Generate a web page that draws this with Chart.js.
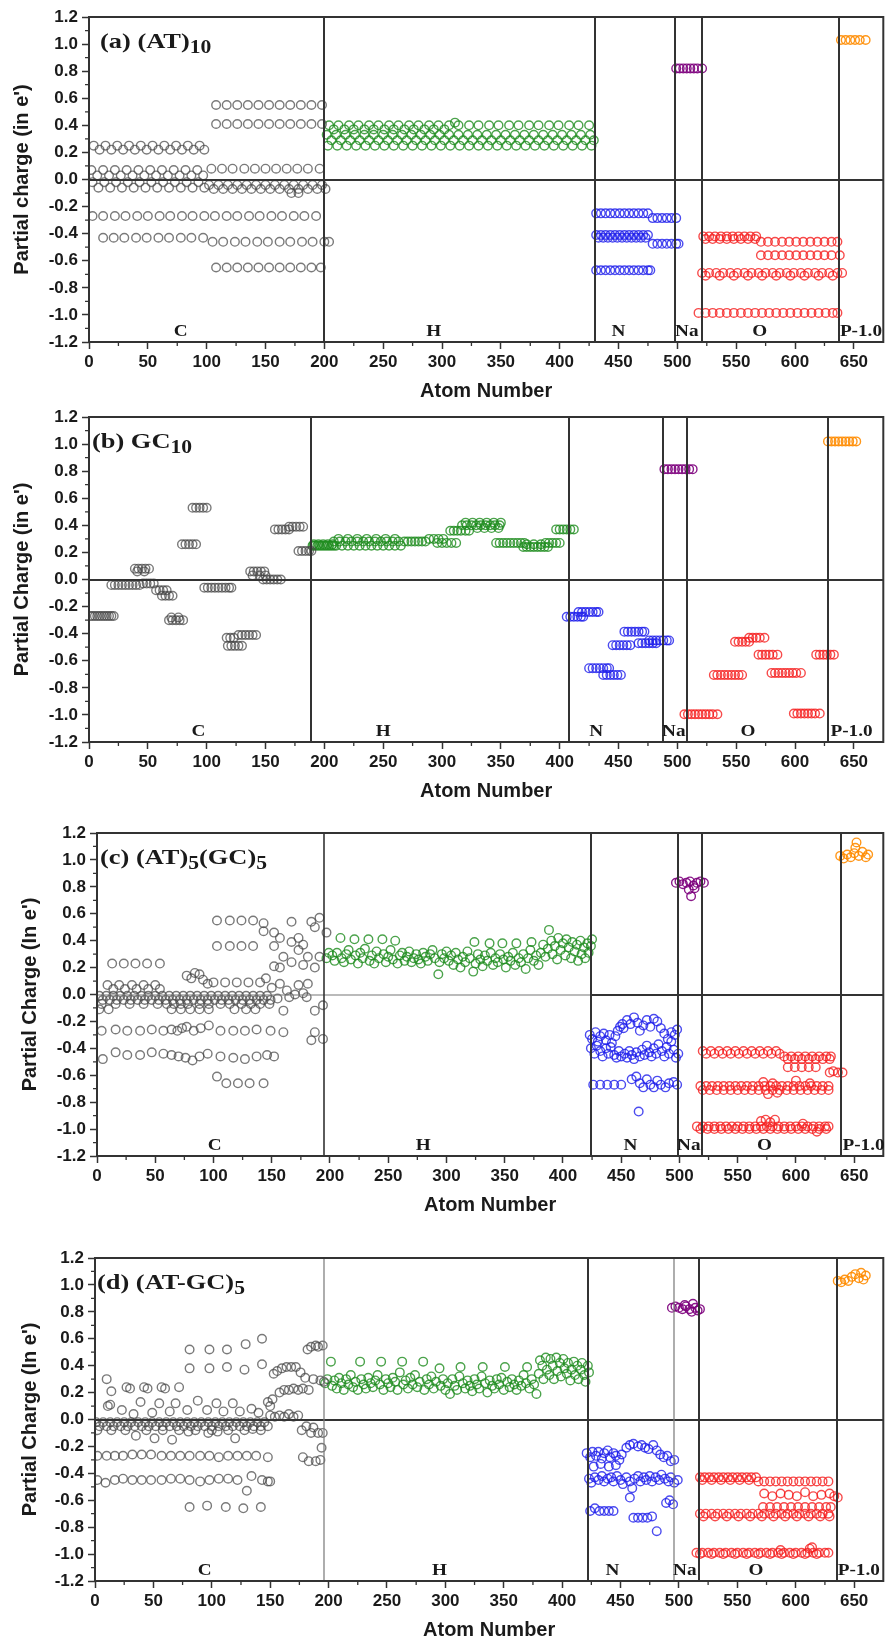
<!DOCTYPE html>
<html><head><meta charset="utf-8">
<script src="https://cdn.jsdelivr.net/npm/chart.js@4.4.1/dist/chart.umd.min.js"></script>
<style>
html,body{margin:0;padding:0;background:#fff;width:889px;height:1645px;overflow:hidden;position:relative;}
.p{position:absolute;left:0;width:889px;}
canvas{display:block;}
</style></head><body>
<div class="p" style="top:0px"><canvas id="ca" width="889" height="410"></canvas></div>
<div class="p" style="top:400px"><canvas id="cb" width="889" height="410"></canvas></div>
<div class="p" style="top:816px"><canvas id="cc" width="889" height="408"></canvas></div>
<div class="p" style="top:1241px"><canvas id="cd" width="889" height="408"></canvas></div>
<script>
function R(y, xs){ return xs.map(x => [x, y]); }

const xTicks = [0,50,100,150,200,250,300,350,400,450,500,550,600,650];
const yTicks = [-1.2,-1.0,-0.8,-0.6,-0.4,-0.2,0,0.2,0.4,0.6,0.8,1.0,1.2];
const elements = ['C','H','N','Na','O','P-1.0'];

// ---------- (a) (AT)10 ----------
const aBounds = [200, 430, 498, 521, 637];
const aLabelX = [78, 293, 450, 508, 570, 656];
const aC = [
 ...R(0.25,[4,14,24,34,44,54,64,74,84,94]),
 ...R(0.22,[9,19,29,39,49,59,69,79,89,98]),
 ...R(0.07,[2,12,22,32,42,52,62,72,82,92]),
 ...R(0.03,[7,17,27,37,47,57,67,77,87,97]),
 ...R(-0.02,[3,13,23,33,43,53,63,73,83,93]),
 ...R(-0.06,[8,18,28,38,48,58,68,78,88,98]),
 ...R(-0.27,[3,12,22,31,41,50,60,69,79,88,98,107,117,126,136,145,155,164,174,183,193]),
 ...R(-0.43,[12,21,30,40,49,59,68,78,87,97]),
 ...R(0.55,[108,117,126,135,144,153,162,171,180,189,198]),
 ...R(0.41,[108,117,126,135,144,153,162,171,180,189,198]),
 ...R(0.08,[104,113,122,132,141,150,159,168,177,186,196]),
 ...R(-0.04,[102,110,118,126,134,142,150,158,166,174,182,190,198]),
 ...R(-0.07,[106,114,122,130,138,146,154,162,170,178,186,194,201]),
 ...R(-0.10,[172,178]),
 ...R(-0.46,[105,114,124,133,143,152,162,171,181,190,200,204]),
 ...R(-0.65,[108,117,126,135,144,153,162,171,180,189,197])
];
const aH = [
 ...R(0.40,[204,212,221,229,238,246,255,263,272,280,289,297,306,314,323,331,340,348,357,365,374,382,391,399,408,416,425]),
 ...R(0.37,[208,217,225,234,242,251,259,268,276,285,293,302]),
 ...R(0.42,[311]),
 ...R(0.33,[202,210,218,226,234,242,250,258,266,274,282,290,298,306,314,322,330,338,346,354,362,370,378,386,394,402,410,418,426]),
 ...R(0.29,[206,214,222,230,238,246,254,262,270,278,286,294,302,310,318,326,334,342,350,358,366,374,382,390,398,406,414,422,429]),
 ...R(0.25,[203,211,219,227,235,243,251,259,267,275,283,291,299,307,315,323,331,339,347,355,363,371,379,387,395,403,411,419,427])
];
const aN = [
 ...R(-0.25,[431,435,439,443,447,451,455,459,463,467,471,475]),
 ...R(-0.285,[479,483,487,491,495,499]),
 ...R(-0.41,[431,435,439,443,447,451,455,459,463,467,471,475]),
 ...R(-0.43,[433,437,441,445,449,453,457,461,465,469,473]),
 ...R(-0.475,[479,483,487,491,495,499,501]),
 ...R(-0.67,[431,435,439,443,447,451,455,459,463,467,471,475,477])
];
const aNa = R(0.82,[499,502,505,508,511,514,517,521]);
const aO = [
 ...R(-0.42,[522,527,532,537,542,547,552,557,562,567]),
 ...R(-0.44,[524,530,536,542,548,554,560,566]),
 ...R(-0.46,[571,577,583,589,595,601,607,613,619,625,631,636]),
 ...R(-0.56,[571,577,583,589,595,601,607,613,619,625,631,638]),
 ...R(-0.69,[521,527,533,539,545,551,557,563,569,575,581,587,593,599,605,611,617,623,629,636,640]),
 ...R(-0.71,[524,536,548,560,572,584,596,608,620,632]),
 ...R(-0.985,[518,524,530,536,542,548,554,560,566,572,578,584,590,596,602,608,614,620,626,632,636])
];
const aP = R(1.03,[639,643,647,651,655,660]);

// ---------- (b) GC10 ----------
const bBounds = [189, 408, 488, 508, 628];
const bLabelX = [93, 250, 431, 497, 560, 648];
const bC = [
 ...R(-0.27,[1,3,5,7,9,11,13,15,17,19,21]),
 ...R(-0.04,[19,22,25,28,31,34,37,40,43]),
 ...R(0.08,[39,42,45,48,51]),
 ...R(0.06,[41,47]),
 ...R(-0.03,[46,49,52,55]),
 ...R(-0.08,[57,60,63,66]),
 ...R(-0.12,[62,65,68,71]),
 ...R(-0.30,[68,71,74,77,80]),
 ...R(-0.28,[70,76]),
 ...R(0.26,[79,82,85,88,91]),
 ...R(0.53,[88,91,94,97,100]),
 ...R(-0.06,[98,101,104,107,110,113,116,119,121]),
 ...R(-0.43,[117,120,123]),
 ...R(-0.49,[118,121,124,127,130]),
 ...R(-0.41,[127,130,133,136,139,142]),
 ...R(0.06,[137,140,143,146,149]),
 ...R(0.03,[139,145,150]),
 ...R(0.0,[148,151,154,157,160,163]),
 ...R(0.37,[158,161,164,167,170]),
 ...R(0.39,[170,173,176,179,182]),
 ...R(0.21,[178,181,184,187,189])
];
const bH = [
 ...R(0.25,[190,192,194,196,198,200,202,204,206,208]),
 ...R(0.26,[191,195,199,203,207]),
 ...R(0.28,[208,213,218,223,228,233,238,243,248,253,258,263]),
 ...R(0.25,[210,215,220,225,230,235,240,245,250,255,260,265]),
 ...R(0.30,[212,220,228,236,244,252,260]),
 ...R(0.28,[268,271,274,277,280,283,286]),
 ...R(0.30,[289,293,297,301]),
 ...R(0.27,[296,300,304,308,312]),
 ...R(0.36,[307,310,313,316,320,323]),
 ...R(0.40,[317,321,325,329,333,337,341,345,349]),
 ...R(0.42,[320,326,332,338,344,350]),
 ...R(0.38,[330,336,342,348]),
 ...R(0.27,[346,349,352,355,358,361,364,367,370]),
 ...R(0.24,[369,372,375,378,381,384,387,390]),
 ...R(0.26,[372,378,384]),
 ...R(0.27,[388,391,394,397,400]),
 ...R(0.37,[397,400,403,406,409,412])
];
const bN = [
 ...R(-0.275,[406,409,412,415,418,420]),
 ...R(-0.24,[416,419,422,425,428,431,433]),
 ...R(-0.655,[425,428,431,434,437,440,442]),
 ...R(-0.705,[437,440,443,446,449,452]),
 ...R(-0.485,[445,448,451,454,457,460]),
 ...R(-0.385,[455,458,461,464,467,470,472]),
 ...R(-0.47,[467,470,473,476,479,482]),
 ...R(-0.45,[476,479,482,485,488,491,493])
];
const bNa = R(0.815,[489,492,495,498,501,504,507,510,513]);
const bO = [
 ...R(-0.995,[506,509,512,515,518,521,524,527,530,534]),
 ...R(-0.705,[531,534,537,540,543,546,549,552,555]),
 ...R(-0.46,[549,552,555,558,561]),
 ...R(-0.43,[561,564,567,570,574]),
 ...R(-0.555,[569,572,575,578,581,585]),
 ...R(-0.69,[580,583,586,589,592,595,598,601,605]),
 ...R(-0.99,[599,602,605,608,611,614,617,621]),
 ...R(-0.555,[618,621,624,627,630,633])
];
const bP = R(1.02,[628,631,634,637,640,643,646,649,652]);

// ---------- (c) (AT)5(GC)5 ----------
const cBounds = [195, 424, 499, 519, 639];
const cLabelX = [101, 280, 458, 508, 573, 658];
const cC = [
 ...R(0.23,[13,23,33,43,54]),
 ...R(0.07,[9,19,30,40,50]),
 ...R(0.04,[14,24,34,44,54]),
 ...R(-0.01,[2,8,14,20,26,32,38,44,50,56,62,68,74,80,86,92,98,104,110,116,122,128,134,140,146]),
 ...R(-0.04,[5,11,17,23,29,35,41,47,53,59,65,71,77,83,89,95,101,107,113,119,125,131,137,143,149]),
 ...R(-0.07,[4,16,28,40,52,60,66,72,78,88,96,106,114,124,132,140,148]),
 ...R(-0.11,[2,10,64,72,80,88,96,118,128,136]),
 ...R(0.55,[103,114,124,134]), [143,0.53],[143,0.47],
 ...R(0.36,[103,114,124,134]),
 ...R(0.09,[100,110,120,130,140]),
 [77,0.14],[81,0.12],[84,0.16],[88,0.15],[91,0.11],[95,0.08],
 [4,-0.27],[16,-0.26],[26,-0.27],[37,-0.27],[47,-0.26],[57,-0.27],[64,-0.26],[69,-0.27],[73,-0.25],[77,-0.24],[83,-0.27],[89,-0.25],[96,-0.23],[106,-0.27],[117,-0.27],[127,-0.27],[137,-0.26],[149,-0.27],
 [5,-0.48],[16,-0.43],[26,-0.45],[37,-0.45],[47,-0.43],[57,-0.44],[64,-0.45],[70,-0.46],[76,-0.47],[82,-0.49],[88,-0.46],[95,-0.44],[106,-0.46],[117,-0.47],[127,-0.48],[137,-0.46],[146,-0.45],[152,-0.46],
 [103,-0.61], ...R(-0.66,[111,121,131,143]),
 [145,0.12],[152,0.21],[152,0.36],[152,0.46],[157,0.42],[157,0.08],[157,0.20],[160,-0.12],[160,-0.28],[160,0.28],
 [167,0.54],[167,0.39],[167,0.24],[173,0.42],[173,0.33],[173,0.07],[177,0.37],[177,0.22],[177,0.01],[181,0.28],[181,0.08],
 [184,0.54],[184,-0.34],[187,0.50],[187,0.20],[187,-0.12],[187,-0.28],[191,0.57],[191,0.28],[194,-0.08],[194,-0.33],[197,0.46],
 [163,0.03],[170,0.0],[150,0.05],[155,-0.03],[165,-0.02],[180,-0.02]
];
const cH = [
 [197,0.27],[199,0.31],[202,0.29],[204,0.25],[206,0.31],[209,0.42],[210,0.27],[212,0.24],[214,0.30],[216,0.33],[218,0.26],[221,0.41],[222,0.29],[224,0.23],[226,0.31],[228,0.27],[230,0.34],[233,0.41],[234,0.25],[236,0.29],[238,0.23],[240,0.32],[242,0.27],[245,0.41],[246,0.30],[248,0.24],[250,0.28],[252,0.33],[254,0.26],[256,0.40],[258,0.23],[260,0.29],[262,0.31],[264,0.25],[266,0.28],[268,0.32],[270,0.24],[272,0.27],[274,0.30],[276,0.26],[278,0.23],[280,0.31],[282,0.28],[284,0.25],[286,0.30],[288,0.33],[290,0.27],[293,0.15],[294,0.24],[296,0.30],[298,0.27],[300,0.32],
 [302,0.25],[304,0.29],[306,0.22],[308,0.31],[310,0.26],[312,0.20],[314,0.28],[316,0.24],[318,0.32],[320,0.27],[323,0.17],[324,0.39],[325,0.23],[327,0.30],[329,0.26],[331,0.21],[333,0.29],[335,0.25],[337,0.38],[338,0.31],[340,0.22],[342,0.27],[344,0.24],[346,0.30],[348,0.38],[349,0.26],[351,0.20],[353,0.28],[355,0.25],[357,0.31],[359,0.22],[360,0.38],[362,0.27],[364,0.24],[366,0.30],[368,0.19],[370,0.27],[372,0.33],[373,0.39],[375,0.25],[377,0.29],[379,0.22],[381,0.31],[383,0.37],[385,0.28],[387,0.34],[388,0.48],[390,0.40],[391,0.30],[393,0.36],[395,0.26],[396,0.42],[398,0.33],[400,0.38],[402,0.29],[403,0.41],[405,0.35],[407,0.27],[408,0.39],[410,0.32],[412,0.37],[413,0.25],[415,0.40],[416,0.30],[418,0.35],[419,0.27],[421,0.38],[422,0.31],[424,0.36],[425,0.41]
];
const cN = [
 [423,-0.30],[425,-0.33],[428,-0.28],[430,-0.35],[432,-0.31],[435,-0.29],[437,-0.34],[440,-0.30],[442,-0.36],[445,-0.31],[447,-0.27],[449,-0.24],[451,-0.22],
 [424,-0.40],[427,-0.44],[429,-0.38],[432,-0.42],[434,-0.46],[437,-0.40],[439,-0.44],[441,-0.39],[444,-0.45],[446,-0.47],[448,-0.42],[450,-0.46],[453,-0.44],[455,-0.47],[457,-0.42],[459,-0.45],[461,-0.48],[463,-0.43],[466,-0.46],[468,-0.41],[470,-0.45],[472,-0.38],[474,-0.43],[476,-0.46],[478,-0.40],[480,-0.44],[482,-0.37],[485,-0.42],[487,-0.46],[489,-0.39],[491,-0.44],[493,-0.35],[495,-0.41],[497,-0.47],[499,-0.44],
 [452,-0.25],[455,-0.19],[458,-0.22],[461,-0.17],[464,-0.21],[466,-0.27],[469,-0.23],[472,-0.19],[475,-0.24],[478,-0.18],[481,-0.20],[484,-0.25],[487,-0.29],[490,-0.33],[493,-0.28],[496,-0.30],[498,-0.26],
 [426,-0.67],[432,-0.67],[438,-0.67],[444,-0.67],[450,-0.67],[459,-0.63],[463,-0.61],[466,-0.66],[469,-0.69],[472,-0.63],[475,-0.67],[478,-0.69],[481,-0.64],[484,-0.67],[488,-0.69],[491,-0.66],[495,-0.65],[498,-0.67],[465,-0.87]
];
const cNa = [[497,0.83],[500,0.84],[503,0.82],[506,0.83],[509,0.84],[512,0.81],[515,0.83],[518,0.84],[521,0.83],[510,0.73],[508,0.78],[513,0.79]];
const cO = [
 ...R(-0.42,[520,527,534,541,548,555,562,569,576,583]),
 ...R(-0.44,[523,530,537,544,551,558,565,572,579,586]),
 ...R(-0.46,[590,596,602,608,614,620,626,630]),
 ...R(-0.48,[593,599,605,611,617,623,629]),
 ...R(-0.54,[593,599,605,611,617]),
 [629,-0.58],[632,-0.57],[636,-0.58],[640,-0.58],
 ...R(-0.68,[518,523,528,533,538,543,548,553,558,563,568,573,578,583,588,593,598,603,608,613,618,623,628]),
 ...R(-0.71,[520,526,532,538,544,550,556,562,568,574,580,586,592,598,604,610,616,622,628]),
 [572,-0.65],[576,-0.74],[580,-0.66],[584,-0.73],[600,-0.64],[612,-0.66],
 ...R(-0.98,[515,520,525,530,535,540,545,550,555,560,565,570,575,580,585,590,595,600,605,610,615,620,625,628]),
 ...R(-1.0,[518,524,530,536,542,548,554,560,566,572,578,584,590,596,602,608,614,620,626]),
 [570,-0.94],[574,-0.93],[578,-0.95],[582,-0.93],[606,-0.96],[618,-1.02]
];
const cP = [[638,1.03],[641,1.01],[644,1.04],[647,1.02],[650,1.05],[651,1.09],[652,1.13],[654,1.03],[657,1.06],[660,1.02],[662,1.04]];

// ---------- (d) (AT-GC)5 ----------
const dBounds = [196, 422, 496, 517, 635];
const dLabelX = [94, 295, 443, 505, 566, 654];
const dC = [
 [81,0.52],[98,0.52],[113,0.52],[129,0.56],[143,0.60],
 [81,0.38],[98,0.38],[113,0.39],[128,0.37],[143,0.41],
 [10,0.30],[14,0.21],
 [27,0.24],[30,0.23],[42,0.24],[45,0.23],[57,0.24],[60,0.23],[72,0.24],
 [11,0.10],[13,0.11],[39,0.13],[55,0.12],[69,0.12],[88,0.14],[104,0.12],[118,0.12],[134,0.08],[148,0.13],
 [23,0.07],[33,0.04],[49,0.05],[64,0.06],[79,0.07],[96,0.07],[110,0.06],[124,0.06],[140,0.05],
 ...R(-0.02,[1,7,13,19,25,31,37,43,49,55,61,67,73,79,85,91,97,103,109,115,121,127,133,139,145]),
 ...R(-0.05,[4,10,16,22,28,34,40,46,52,58,64,70,76,82,88,94,100,106,112,118,124,130,136,142,148]),
 ...R(-0.08,[2,14,26,44,58,72,86,100,114,128,142]),
 [35,-0.12],[51,-0.14],[66,-0.15],[80,-0.09],[97,-0.10],[105,-0.09],[120,-0.14],[135,-0.07],
 [2,-0.27],[10,-0.27],[17,-0.27],[24,-0.27],[32,-0.26],[40,-0.26],[48,-0.26],[57,-0.27],[65,-0.27],[73,-0.27],[81,-0.27],[90,-0.27],[98,-0.27],[106,-0.28],[114,-0.27],[122,-0.27],[130,-0.27],[138,-0.27],[148,-0.28],
 [2,-0.45],[9,-0.47],[17,-0.45],[24,-0.44],[32,-0.45],[40,-0.45],[48,-0.45],[57,-0.45],[65,-0.44],[73,-0.44],[81,-0.45],[90,-0.46],[98,-0.45],[106,-0.44],[114,-0.44],[122,-0.45],[134,-0.42],[143,-0.45],[148,-0.46],[150,-0.46],
 [130,-0.53],
 [81,-0.65],[96,-0.64],[112,-0.65],[127,-0.66],[142,-0.65],
 [150,0.10],[152,0.15],[153,0.34],[156,0.36],[158,0.20],[160,0.38],[162,0.22],[164,0.39],[166,0.22],[168,0.39],[170,0.23],[172,0.39],[174,0.22],[176,0.35],[178,0.23],[180,0.31],[182,0.52],[183,0.22],[185,0.54],[187,0.30],[189,0.55],[191,0.54],[193,0.29],[195,0.55],[196,0.28],
 [150,0.03],[154,0.02],[158,0.03],[162,0.02],[166,0.04],[170,0.02],[174,0.03],
 [177,-0.08],[178,-0.28],[181,-0.05],[183,-0.31],[185,-0.10],[187,-0.06],[189,-0.31],[191,-0.10],[193,-0.30],[194,-0.21],[195,-0.10]
];
const dH = [
 [197,0.27],[199,0.30],[202,0.43],[203,0.25],[205,0.29],[207,0.23],[209,0.31],[211,0.27],[213,0.22],[215,0.30],[217,0.26],[219,0.33],[221,0.24],[223,0.28],[225,0.22],[227,0.43],[228,0.30],[230,0.26],[232,0.23],[234,0.31],[236,0.27],[238,0.24],[240,0.29],[242,0.33],[244,0.26],[245,0.43],[247,0.22],[249,0.30],[251,0.27],[253,0.24],[255,0.31],[257,0.28],[259,0.22],[261,0.35],[263,0.43],[264,0.26],[266,0.29],[268,0.23],[270,0.31],[272,0.26],[274,0.33],[276,0.24],[278,0.28],[281,0.43],[282,0.22],[284,0.30],[286,0.26],[288,0.32],[290,0.23],[292,0.28],[295,0.38],[296,0.25],[298,0.30],[300,0.22],
 [302,0.27],[304,0.19],[306,0.30],[308,0.25],[310,0.22],[312,0.32],[313,0.39],[315,0.27],[317,0.23],[319,0.29],[321,0.25],[323,0.21],[325,0.30],[327,0.26],[329,0.23],[331,0.32],[332,0.39],[334,0.27],[336,0.20],[338,0.29],[340,0.25],[342,0.23],[344,0.30],[346,0.26],[348,0.31],[350,0.22],[351,0.39],[353,0.28],[355,0.24],[357,0.30],[359,0.26],[361,0.22],[363,0.29],[365,0.25],[367,0.33],[369,0.27],[370,0.39],[372,0.23],[374,0.30],[376,0.26],[378,0.19],
 [380,0.34],[381,0.44],[383,0.40],[384,0.30],[386,0.46],[387,0.37],[389,0.33],[390,0.45],[392,0.40],[393,0.30],[395,0.46],[396,0.36],[398,0.42],[399,0.32],[401,0.45],[402,0.38],[404,0.34],[405,0.42],[407,0.29],[408,0.37],[410,0.43],[411,0.33],[413,0.40],[414,0.30],[416,0.37],[417,0.42],[419,0.33],[420,0.28],[422,0.40],[423,0.35]
];
const dN = [
 [421,-0.25],[424,-0.28],[426,-0.24],[429,-0.27],[431,-0.24],[434,-0.29],[436,-0.25],[439,-0.23],[441,-0.28],[444,-0.25],[446,-0.27],[449,-0.30],[451,-0.26],
 [427,-0.35],[433,-0.33],[440,-0.35],[446,-0.34],
 [455,-0.21],[458,-0.19],[461,-0.18],[465,-0.20],[468,-0.19],[471,-0.21],[474,-0.22],[478,-0.19],[481,-0.23],[484,-0.26],[487,-0.28],[490,-0.27],[493,-0.31],[496,-0.30],
 [423,-0.44],[425,-0.47],[428,-0.43],[431,-0.45],[434,-0.42],[436,-0.46],[439,-0.44],[442,-0.43],[444,-0.46],[447,-0.42],[450,-0.45],[452,-0.48],[455,-0.43],[458,-0.46],[460,-0.51],[462,-0.44],[465,-0.42],[467,-0.46],[470,-0.43],[472,-0.45],[475,-0.42],[477,-0.46],[480,-0.43],[483,-0.45],[485,-0.41],[488,-0.44],[491,-0.46],[493,-0.43],[496,-0.47],[499,-0.45],
 [458,-0.58],[489,-0.62],[492,-0.60],[495,-0.63],
 [424,-0.68],[428,-0.66],[432,-0.68],[436,-0.68],[440,-0.68],[444,-0.68],
 [461,-0.73],[465,-0.73],[469,-0.73],[473,-0.73],[477,-0.72],[481,-0.83]
];
const dNa = [[494,0.83],[497,0.84],[500,0.83],[503,0.82],[506,0.84],[509,0.82],[511,0.80],[514,0.83],[516,0.81],[518,0.82],[505,0.85],[512,0.86]];
const dO = [
 ...R(-0.43,[518,522,526,530,534,538,542,546,550,554,558,562,566]),
 ...R(-0.45,[520,528,536,544,552,560]),
 ...R(-0.46,[568,573,578,583,588,593,598,603,608,613,618,623,628]),
 [573,-0.55],[580,-0.57],[587,-0.55],[594,-0.56],[601,-0.57],[608,-0.54],[615,-0.57],[622,-0.56],[629,-0.55],[633,-0.57],[636,-0.58],
 ...R(-0.65,[572,578,584,590,596,602,608,614,620,626,630]),
 ...R(-0.70,[518,523,528,533,538,543,548,553,558,563,568,573,578,583,588,593,598,603,608,613,618,623,628]),
 ...R(-0.72,[521,531,541,551,561,571,581,591,601,611,621,629]),
 ...R(-0.99,[515,520,525,530,535,540,545,550,555,560,565,570,575,580,585,590,595,600,605,610,615,620,625,628]),
 ...R(-1.0,[518,528,538,548,558,568,578,588,598,608,618]),
 [612,-0.96],[614,-0.95],[587,-0.97]
];
const dP = [[636,1.03],[639,1.02],[642,1.04],[645,1.03],[648,1.06],[651,1.08],[654,1.05],[656,1.09],[658,1.04],[660,1.07]];

// ---------- drawing ----------
const COLORS = ['rgba(70,70,70,0.72)','rgba(30,140,30,0.8)','rgba(30,30,235,0.8)','rgba(125,0,125,0.9)','rgba(245,30,30,0.8)','rgba(255,140,0,0.9)'];

function sText(ctx, str, x, y, sx){ ctx.save(); ctx.translate(x,y); ctx.scale(sx,1); ctx.fillText(str,0,0); ctx.restore(); }

function panel(id, cfg){
  const overlay = {
    id:'overlay',
    afterDatasetsDraw(chart){
      const {ctx, chartArea:a, scales:{x, y}} = chart;
      ctx.save();
      const py = Math.round(y.getPixelForValue(0));
      cfg.zero.forEach(([x0,x1,w,c]) => {
        ctx.strokeStyle=c; ctx.lineWidth=w; ctx.beginPath();
        ctx.moveTo(x.getPixelForValue(x0), py); ctx.lineTo(x.getPixelForValue(x1), py); ctx.stroke();
      });
      cfg.bounds.forEach((b,i) => {
        ctx.strokeStyle=cfg.divC[i]; ctx.lineWidth=cfg.divW[i];
        const px = Math.round(x.getPixelForValue(b));
        ctx.beginPath(); ctx.moveTo(px, a.top); ctx.lineTo(px, a.bottom); ctx.stroke();
      });
      ctx.strokeStyle='#333'; ctx.lineWidth=2;
      ctx.strokeRect(a.left, a.top, a.right-a.left, a.bottom-a.top);
      ctx.lineWidth=1.3; ctx.beginPath();
      for (let i=0;i<xTicks.length;i++){ const v=xTicks[i]+25; if (v<675){ const px=x.getPixelForValue(v); ctx.moveTo(px,a.bottom); ctx.lineTo(px,a.bottom+4);} }
      for (let i=0;i<yTicks.length-1;i++){ const v=(yTicks[i]+yTicks[i+1])/2; const p=y.getPixelForValue(v); ctx.moveTo(a.left,p); ctx.lineTo(a.left-4,p); }
      ctx.stroke();
      ctx.fillStyle='#1a1a1a'; ctx.font='bold 16px "Liberation Serif"'; ctx.textAlign='center'; ctx.textBaseline='alphabetic';
      elements.forEach((t,i) => sText(ctx, t, x.getPixelForValue(cfg.labelX[i]), y.getPixelForValue(-1.155), 1.2));
      ctx.textAlign='left';
      let tx = a.left + cfg.titleDx; const ty = a.top + 31;
      cfg.title.forEach(([t,sub]) => {
        ctx.font = sub ? 'bold 18px "Liberation Serif"' : 'bold 22px "Liberation Serif"';
        sText(ctx, t, tx, ty + (sub?5:0), 1.2);
        tx += ctx.measureText(t).width*1.2;
      });
      ctx.restore();
    }
  };
  const series = [cfg.C, cfg.H, cfg.N, cfg.Na, cfg.O, cfg.P];
  new Chart(document.getElementById(id), {
    type:'scatter',
    data:{ datasets: series.map((s,i) => ({
      data: s.map(([x,y]) => ({x,y})),
      pointStyle:'circle', pointRadius:4.3, pointHoverRadius:4.3, pointBorderWidth:1.4,
      borderColor:COLORS[i], backgroundColor:'rgba(0,0,0,0)', showLine:false
    }))},
    options:{
      responsive:false, maintainAspectRatio:false, animation:false, events:[],
      layout:{padding:{top:17, right:cfg.rightPad, left:0, bottom:0}},
      plugins:{legend:{display:false}, tooltip:{enabled:false}},
      scales:{
        x:{ type:'linear', min:0, max:675,
          afterBuildTicks(s){ s.ticks = xTicks.map(v => ({value:v})); },
          afterFit(s){ s.height = 68; },
          grid:{drawOnChartArea:false, drawTicks:true, tickLength:7, tickWidth:1.5, tickColor:'#333'},
          border:{display:false},
          ticks:{font:{family:'"Liberation Sans", Arial', weight:'bold', size:17}, color:'#1a1a1a', padding:3, maxRotation:0, autoSkip:false, callback:v => String(v)},
          title:{display:true, text:'Atom Number', color:'#1a1a1a', font:{family:'"Liberation Sans", Arial', weight:'bold', size:20}, padding:{top:0, bottom:7}}
        },
        y:{ type:'linear', min:-1.2, max:1.2,
          afterBuildTicks(s){ s.ticks = yTicks.map(v => ({value:v})); },
          afterFit(s){ s.width = cfg.leftW; },
          grid:{drawOnChartArea:false, drawTicks:true, tickLength:7, tickWidth:1.5, tickColor:'#333'},
          border:{display:false},
          ticks:{font:{family:'"Liberation Sans", Arial', weight:'bold', size:17}, color:'#1a1a1a', padding:4, autoSkip:false, callback:v => Number(v).toFixed(1)},
          title:{display:true, text:cfg.yTitle, color:'#1a1a1a', font:{family:'"Liberation Sans", Arial', weight:'bold', size:20}, padding:{top:cfg.yTitlePad, bottom:0}}
        }
      }
    },
    plugins:[overlay]
  });
}

const dark='#333', grey='#777';
panel('ca', {C:aC,H:aH,N:aN,Na:aNa,O:aO,P:aP, bounds:aBounds, labelX:aLabelX,
  divW:[2,2,2,2,2], divC:[dark,dark,dark,dark,dark], zero:[[0,675,2,dark]],
  leftW:89, rightPad:2, yTitle:"Partial charge (in e')", yTitlePad:10, titleDx:11,
  title:[['(a) (AT)',0],['10',1]]});
panel('cb', {C:bC,H:bH,N:bN,Na:bNa,O:bO,P:bP, bounds:bBounds, labelX:bLabelX,
  divW:[2,2,2,2,2], divC:[dark,dark,dark,dark,dark], zero:[[0,675,2,dark]],
  leftW:89, rightPad:2, yTitle:"Partial Charge (in e')", yTitlePad:10, titleDx:3,
  title:[['(b) GC',0],['10',1]]});
panel('cc', {C:cC,H:cH,N:cN,Na:cNa,O:cO,P:cP, bounds:cBounds, labelX:cLabelX,
  divW:[1.6,2,2,2,2], divC:[dark,dark,dark,dark,dark], zero:[[0,424,1.2,grey],[424,675,2,dark]],
  leftW:97, rightPad:1, yTitle:"Partial Charge (In e')", yTitlePad:18, titleDx:3,
  title:[['(c) (AT)',0],['5',1],['(GC)',0],['5',1]]});
panel('cd', {C:dC,H:dH,N:dN,Na:dNa,O:dO,P:dP, bounds:dBounds, labelX:dLabelX,
  divW:[1.2,2,1.2,2,2], divC:[grey,dark,grey,dark,dark], zero:[[0,675,2,dark]],
  leftW:95, rightPad:1, yTitle:"Partial Charge (In e')", yTitlePad:18, titleDx:2,
  title:[['(d) (AT-GC)',0],['5',1]]});
</script>
</body></html>
